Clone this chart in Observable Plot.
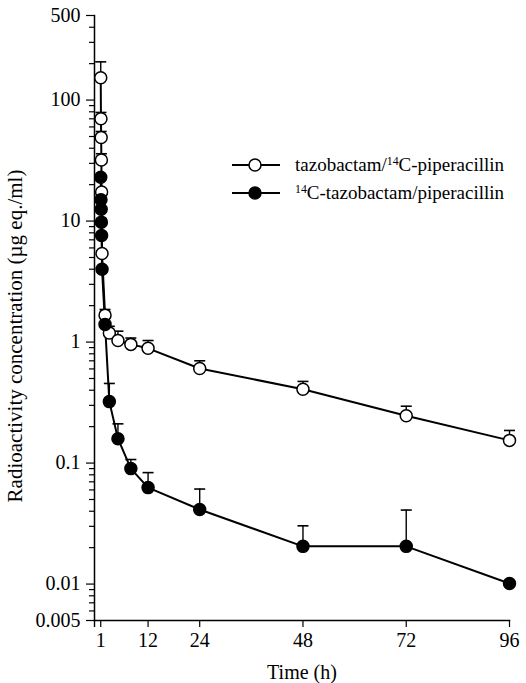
<!DOCTYPE html>
<html><head><meta charset="utf-8">
<script src="https://cdn.jsdelivr.net/npm/d3@7"></script>
<script src="https://cdn.jsdelivr.net/npm/@observablehq/plot@0.6"></script>
<style>
body{margin:0;background:#fff;}
#wrap{position:relative;width:526px;height:683px;font-family:"Liberation Serif","Times New Roman",serif;color:#000;}
#legend{position:absolute;left:232px;top:0;font-size:19px;}
.row{position:absolute;left:0;white-space:nowrap;height:26px;}
.row svg{position:absolute;left:0;top:0;}
.row span{position:absolute;left:63px;top:1px;line-height:24px;}
.row sup{font-size:0.62em;vertical-align:0.5em;line-height:0;}
</style></head><body><div id="wrap"></div>
<script>
// Data
const times       = [1.0, 1.05, 1.1, 1.15, 1.2, 1.3, 2, 3, 5, 8, 12, 24, 48, 72, 96];
const openMean    = [153, 70, 49, 32, 17.4, 5.4, 1.67, 1.19, 1.03, 0.957, 0.888, 0.605, 0.408, 0.246, 0.154];
const openUpper   = [207, 79, 55, 36, null, null, 1.86, 1.35, 1.23, 1.08, 1.03, 0.70, 0.473, 0.295, 0.186];
const filledMean  = [23, 15, 12.5, 9.8, 7.6, 4.0, 1.40, 0.322, 0.159, 0.090, 0.0627, 0.0413, 0.0205, 0.0205, 0.0101];
const filledUpper = [null, null, null, null, null, null, null, 0.455, 0.211, 0.107, 0.0834, 0.061, 0.0303, 0.0409, null];
const seriesNames = [["tazobactam/", "14", "C-piperacillin"], ["", "14", "C-tazobactam/piperacillin"]];
const xTicks = [1, 12, 24, 48, 72, 96];
const xDomain = [-0.45, 96];
const yDomain = [0.005, 500];
const yMajorTicks  = [500, 100, 10, 1, 0.1, 0.01, 0.005];
const yMajorLabels = ["500", "100", "10", "1", "0.1", "0.01", "0.005"];
const yMinorTicks = [0.006,0.007,0.008,0.009, 0.02,0.03,0.04,0.05,0.06,0.07,0.08,0.09,
  0.2,0.3,0.4,0.5,0.6,0.7,0.8,0.9, 2,3,4,5,6,7,8,9, 20,30,40,50,60,70,80,90, 200,300,400];
const xLabel = "Time (h)";
const yLabel = "Radioactivity concentration (µg eq./ml)";

const openData = times.map((t, i) => ({t, v: openMean[i], u: openUpper[i]}));
const filledData = times.map((t, i) => ({t, v: filledMean[i], u: filledUpper[i]}));
const openErr = openData.filter(d => d.u != null);
const filledErr = filledData.filter(d => d.u != null);

const cap = {draw(ctx) { ctx.moveTo(-5.5, 0); ctx.lineTo(5.5, 0); }};
const font = '"Liberation Serif","Times New Roman",serif';

const plot = Plot.plot({
  width: 526, height: 683,
  marginLeft: 94, marginRight: 17, marginTop: 15, marginBottom: 63,
  style: {fontFamily: font, fontSize: "20px", color: "#000", background: "#fff", overflow: "visible"},
  x: {domain: xDomain},
  y: {type: "log", domain: yDomain},
  marks: [
    Plot.axisY(yMinorTicks, {tickSize: 5, tickFormat: () => "", label: null, strokeWidth: 1.2}),
    Plot.axisY(yMajorTicks, {tickSize: 8, tickFormat: () => "", label: null, strokeWidth: 1.2}),
    Plot.text(yMajorTicks, {y: d => d, text: d => yMajorLabels[yMajorTicks.indexOf(d)],
      frameAnchor: "left", dx: -14, textAnchor: "end", fontSize: 20}),
    Plot.axisX([xDomain[0]], {tickSize: 7, tickFormat: () => "", label: null, strokeWidth: 1.4}),
    Plot.axisX({ticks: xTicks, tickSize: 7, tickPadding: 5, strokeWidth: 1.2,
      label: xLabel, labelAnchor: "center", labelArrow: false, labelOffset: 58}),
    Plot.text([yLabel], {text: d => d, frameAnchor: "left", rotate: -90, dx: -87, dy: 18,
      textAnchor: "middle", lineAnchor: "top", fontSize: 21}),
    Plot.frame({anchor: "left", strokeWidth: 1.5}),
    Plot.frame({anchor: "bottom", strokeWidth: 1.5}),
    Plot.line(openData, {x: "t", y: "v", stroke: "#000", strokeWidth: 2}),
    Plot.line(filledData, {x: "t", y: "v", stroke: "#000", strokeWidth: 2}),
    Plot.ruleX(openErr, {x: "t", y1: "v", y2: "u", stroke: "#000", strokeWidth: 1.4}),
    Plot.dot(openErr, {x: "t", y: "u", symbol: cap, stroke: "#000", strokeWidth: 1.6, fill: "none"}),
    Plot.ruleX(filledErr, {x: "t", y1: "v", y2: "u", stroke: "#000", strokeWidth: 1.4}),
    Plot.dot(filledErr, {x: "t", y: "u", symbol: cap, stroke: "#000", strokeWidth: 1.6, fill: "none"}),
    Plot.dot(openData, {x: "t", y: "v", r: 6, fill: "#fff", stroke: "#000", strokeWidth: 1.5}),
    Plot.dot(filledData, {x: "t", y: "v", r: 6, fill: "#000", stroke: "#000", strokeWidth: 1.5})
  ]
});
const wrap = document.getElementById("wrap");
wrap.appendChild(plot);

// Legend
const legend = document.createElement("div");
legend.id = "legend";
const rowTops = [152, 180];
seriesNames.forEach((parts, i) => {
  const row = document.createElement("div");
  row.className = "row";
  row.style.top = rowTops[i] + "px";
  row.innerHTML = `<svg width="52" height="26"><line x1="0" x2="48" y1="13" y2="13" stroke="#000" stroke-width="2"/>` +
    `<circle cx="23" cy="13" r="6" fill="${i === 0 ? "#fff" : "#000"}" stroke="#000" stroke-width="1.5"/></svg>` +
    `<span>${parts[0]}<sup>${parts[1]}</sup>${parts[2]}</span>`;
  legend.appendChild(row);
});
wrap.appendChild(legend);
</script></body></html>
